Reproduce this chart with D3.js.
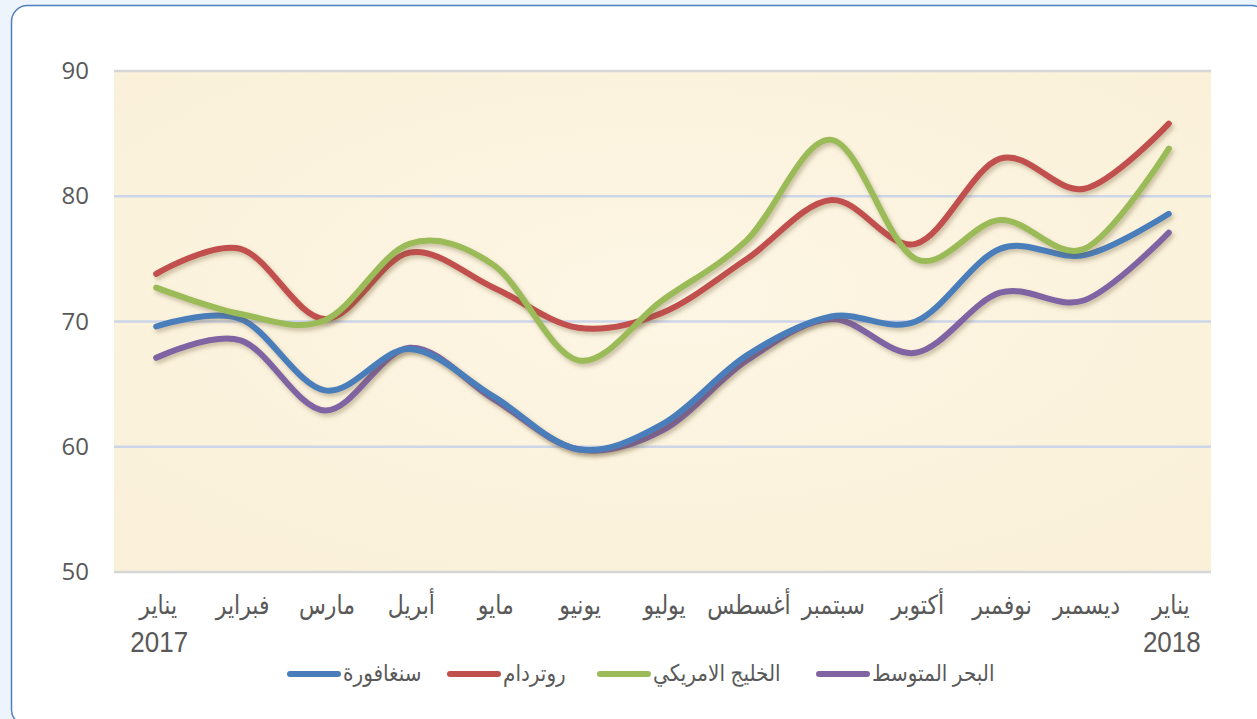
<!DOCTYPE html>
<html>
<head>
<meta charset="utf-8">
<script src="https://cdn.jsdelivr.net/npm/d3@7"></script>
<style>
  html, body { margin: 0; padding: 0; background: #edf4fc; }
  svg { display: block; }
  text { font-family: "Liberation Sans", Arial, "DejaVu Sans", sans-serif; fill: #595959; }
</style>
</head>
<body>
<div id="chart"></div>
<script>
"use strict";

var months = ["يناير", "فبراير", "مارس", "أبريل", "مايو", "يونيو", "يوليو", "أغسطس", "سبتمبر", "أكتوبر", "نوفمبر", "ديسمبر", "يناير"];
var years = ["2017", "", "", "", "", "", "", "", "", "", "", "", "2018"];
var yTicks = [50, 60, 70, 80, 90];

var seriesNames = ["سنغافورة", "روتردام", "الخليج الامريكي", "البحر المتوسط"];
var seriesColors = ["#4a7ebb", "#c0504d", "#9bbb59", "#8064a2"];

var singapore = [69.6, 70.2, 64.5, 67.8, 64.0, 59.8, 61.8, 67.3, 70.4, 70.0, 75.8, 75.3, 78.6];
var rotterdam = [73.8, 75.8, 70.2, 75.5, 72.7, 69.5, 70.7, 75.0, 79.7, 76.2, 83.0, 80.6, 85.8];
var gulf      = [72.7, 70.6, 70.1, 76.2, 74.5, 66.9, 71.7, 76.5, 84.5, 75.0, 78.1, 75.8, 83.8];
var med       = [67.1, 68.5, 62.9, 67.9, 63.8, 59.8, 61.3, 66.9, 70.2, 67.5, 72.3, 71.7, 77.1];

var allSeries = [singapore, rotterdam, gulf, med];
// draw order: back to front
var drawOrder = [3, 0, 1, 2];

var width = 1257;
var height = 719;
var margin = {top: 71, right: 46, bottom: 147, left: 114};

var svg = d3.select("#chart").append("svg")
  .attr("width", width)
  .attr("height", height);

var defs = svg.append("defs");
var f = defs.append("filter").attr("id", "shadow")
  .attr("x", "-5%").attr("y", "-10%").attr("width", "110%").attr("height", "130%");
f.append("feDropShadow")
  .attr("dx", 2).attr("dy", 3).attr("stdDeviation", 2)
  .attr("flood-color", "#6b5a30").attr("flood-opacity", 0.35);

var grad = defs.append("radialGradient").attr("id", "paper")
  .attr("cx", "50%").attr("cy", "45%").attr("r", "75%");
grad.append("stop").attr("offset", "0%").attr("stop-color", "#fdf6e4");
grad.append("stop").attr("offset", "100%").attr("stop-color", "#faf0d8");

// card
svg.append("rect")
  .attr("x", 11.5).attr("y", 5.5)
  .attr("width", 1256).attr("height", 720)
  .attr("rx", 16).attr("ry", 16)
  .attr("fill", "#ffffff")
  .attr("stroke", "#4f7fc0")
  .attr("stroke-width", 1.5);

var pw = width - margin.left - margin.right;
var ph = height - margin.top - margin.bottom;

var x = d3.scaleBand()
  .domain(d3.range(months.length))
  .range([0, pw]);

var y = d3.scaleLinear()
  .domain([50, 90])
  .range([ph, 0]);

var g = svg.append("g")
  .attr("transform", "translate(" + margin.left + "," + margin.top + ")");

g.append("rect")
  .attr("x", 0).attr("y", 0)
  .attr("width", pw).attr("height", ph)
  .attr("fill", "url(#paper)");

// gridlines
g.selectAll(".grid")
  .data(yTicks)
  .enter()
  .append("line")
  .attr("class", "grid")
  .attr("x1", 0).attr("x2", pw)
  .attr("y1", function(d) { return y(d); })
  .attr("y2", function(d) { return y(d); })
  .attr("stroke", function(d) { return (d == 90 || d == 50) ? "#d6d6d6" : "#cdd5e8"; })
  .attr("stroke-width", 2.5);

// y axis labels
var yAxis = d3.axisLeft(y).tickValues(yTicks).tickSize(0).tickPadding(25);
g.append("g")
  .call(yAxis)
  .call(function(a) { a.select(".domain").remove(); })
  .selectAll("text")
  .style("font-family", "'Open Sans', 'Noto Sans', sans-serif")
  .style("font-size", "24px")
  .attr("fill", "#595959");

// x axis labels
g.selectAll(".xlab")
  .data(months)
  .enter()
  .append("text")
  .attr("class", "xlab")
  .attr("transform", function(d, i) {
    return "translate(" + (x(i) + x.bandwidth() / 2 + 2) + "," + (ph + 42) + ") scale(1,1.2)";
  })
  .attr("text-anchor", "middle")
  .style("font-size", "22px")
  .text(function(d) { return d; });

g.selectAll(".yearlab")
  .data(years)
  .enter()
  .append("text")
  .attr("class", "yearlab")
  .attr("transform", function(d, i) {
    return "translate(" + (x(i) + x.bandwidth() / 2 + 3) + "," + (ph + 80) + ") scale(1,1.15)";
  })
  .attr("text-anchor", "middle")
  .style("font-size", "26px")
  .text(function(d) { return d; });

var line = d3.line()
  .x(function(d, i) { return x(i) + x.bandwidth() / 2; })
  .y(function(d) { return y(d); })
  .curve(d3.curveCardinal.tension(0));

drawOrder.forEach(function(k) {
  g.append("path")
    .datum(allSeries[k])
    .attr("fill", "none")
    .attr("stroke", seriesColors[k])
    .attr("stroke-width", 6)
    .attr("stroke-linecap", "round")
    .attr("stroke-linejoin", "round")
    .attr("filter", "url(#shadow)")
    .attr("d", line);
});

// legend
var legendX = [287, 447, 597, 816];
var legendY = 674;
var leg = svg.selectAll(".legend")
  .data(seriesNames)
  .enter()
  .append("g")
  .attr("class", "legend")
  .attr("transform", function(d, i) { return "translate(" + legendX[i] + "," + legendY + ")"; });

leg.append("line")
  .attr("x1", 3).attr("x2", 51)
  .attr("y1", 0).attr("y2", 0)
  .attr("stroke", function(d, i) { return seriesColors[i]; })
  .attr("stroke-width", 6)
  .attr("stroke-linecap", "round");

leg.append("text")
  .attr("transform", "translate(56,7) scale(1,1.15)")
  .attr("text-anchor", "start")
  .style("font-size", "20px")
  .text(function(d) { return d; });
</script>
</body>
</html>
